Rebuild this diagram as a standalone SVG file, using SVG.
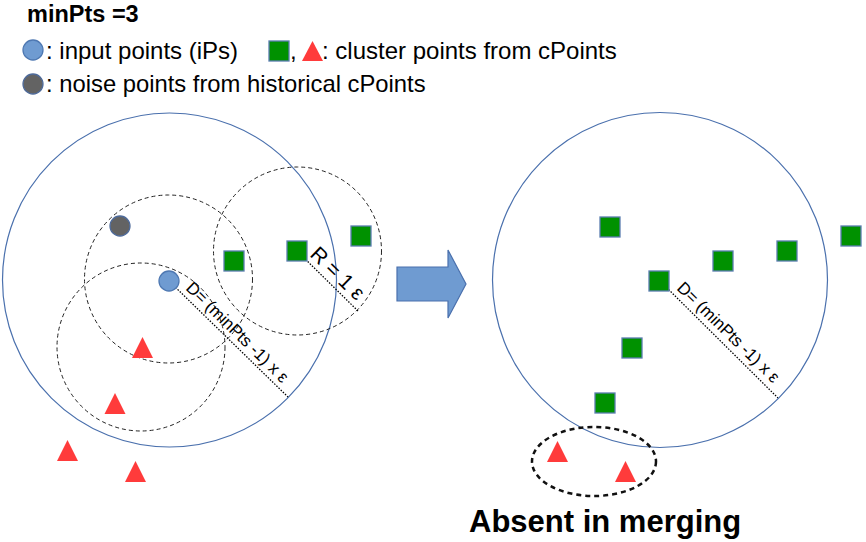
<svg xmlns="http://www.w3.org/2000/svg" width="866" height="542" viewBox="0 0 866 542">
<defs>
<style>
.t{font-family:"Liberation Sans",Arial,sans-serif;fill:#000}
.big{fill:none;stroke:#4a70ad;stroke-width:1.2}
.dash{fill:none;stroke:#222;stroke-width:1;stroke-dasharray:4 3}
.dot{fill:none;stroke:#000;stroke-width:1.3;stroke-dasharray:1.5 1.5}
.sq{fill:#009100;stroke:#5b7db0;stroke-width:1.3}
.tri{fill:#ff3b3b}
.ip{fill:#6f9bd1;stroke:#4e78b2;stroke-width:1.3}
.noise{fill:#636363;stroke:#4e6a99;stroke-width:1.3}
</style>
<rect id="s" width="20" height="20" class="sq"/>
<polygon id="tr" points="0,0 10.5,-21 21,0" class="tri"/>
</defs>
<rect width="866" height="542" fill="#fff"/>

<g id="legend">
<text class="t" x="27" y="22" font-size="23.5" font-weight="bold">minPts =3</text>
<circle cx="33" cy="50" r="10" class="ip"/>
<text class="t" x="46" y="59" font-size="24">: input points (iPs)</text>
<rect x="269" y="41" width="20" height="20" class="sq"/>
<text class="t" x="290" y="59" font-size="24">,</text>
<polygon points="302,61 312.5,41 323,61" class="tri"/>
<text class="t" x="322" y="59" font-size="24">: cluster points from cPoints</text>
<circle cx="33" cy="84" r="10" class="noise"/>
<text class="t" x="46" y="92" font-size="23.8">: noise points from historical cPoints</text>
</g>

<g id="left-cluster">
<circle cx="169.5" cy="280" r="167" class="big"/>
<circle cx="168.5" cy="279" r="84" class="dash"/>
<circle cx="141" cy="347" r="84" class="dash"/>
<circle cx="297.5" cy="251" r="84" class="dash"/>
</g>

<g id="connectors">
<line x1="169" y1="281" x2="288" y2="397" class="dot"/>
<line x1="297" y1="251" x2="358" y2="311" class="dot"/>
<line x1="660" y1="281" x2="778" y2="398" class="dot"/>
</g>

<g id="left-points">
<circle cx="169" cy="281" r="10" class="ip"/>
<circle cx="120" cy="226" r="10" class="noise"/>
<use href="#s" x="224" y="251"/>
<use href="#s" x="287" y="241"/>
<use href="#s" x="351" y="226"/>
<use href="#tr" x="132" y="358"/>
<use href="#tr" x="104.5" y="414"/>
<use href="#tr" x="57" y="461"/>
<use href="#tr" x="125" y="482"/>
</g>

<g id="left-labels">
<text class="t" font-size="17" transform="translate(185,289) rotate(44.3)">D= (minPts -1) x ε</text>
<text class="t" font-size="21" transform="translate(309,255.5) rotate(44)">R = 1  ε</text>
</g>

<g id="arrow">
<polygon points="397,267 448,267 448,250 466,284 448,318 448,301 397,301" fill="#6f9bd1" stroke="#4a70ad" stroke-width="1.2"/>
</g>

<g id="right-cluster">
<circle cx="660" cy="280" r="167.5" class="big"/>
<use href="#s" x="600" y="217"/>
<use href="#s" x="649" y="271"/>
<use href="#s" x="713" y="251"/>
<use href="#s" x="777" y="241"/>
<use href="#s" x="841" y="226"/>
<use href="#s" x="622" y="338"/>
<use href="#s" x="595" y="393"/>
<text class="t" font-size="17" transform="translate(676,289) rotate(44.3)">D= (minPts -1) x ε</text>
</g>

<g id="absent">
<ellipse cx="594" cy="461.5" rx="62" ry="34.5" fill="none" stroke="#111" stroke-width="2.5" stroke-dasharray="5 4"/>
<use href="#tr" x="547" y="462"/>
<use href="#tr" x="615" y="482"/>
<text class="t" x="469" y="532" font-size="31" font-weight="bold">Absent in merging</text>
</g>
</svg>
